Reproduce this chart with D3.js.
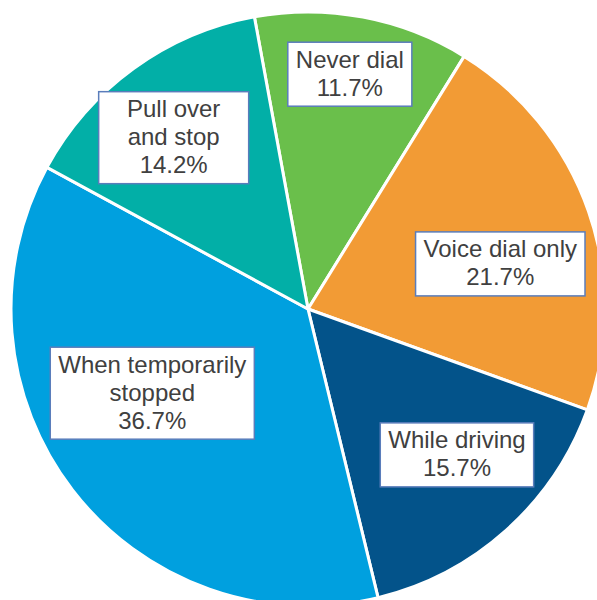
<!DOCTYPE html>
<html>
<head>
<meta charset="utf-8">
<script src="https://cdn.jsdelivr.net/npm/d3@7"></script>
<style>
  html, body { margin: 0; padding: 0; background: #fff; overflow: hidden; }
  svg { display: block; }
</style>
</head>
<body>
<svg id="chart" width="597" height="600"></svg>
<script>
// ---- Data ----
const categories = ["Never dial", "Voice dial only", "While driving", "When temporarily stopped", "Pull over and stop"];
const values = [11.7, 21.7, 15.7, 36.7, 14.2];
const labelLines = [
  ["Never dial"],
  ["Voice dial only"],
  ["While driving"],
  ["When temporarily", "stopped"],
  ["Pull over", "and stop"]
];
const colors = ["#6ABF4B", "#F29B35", "#03538A", "#00A0DF", "#02AFA7"];

// ---- Layout ----
const W = 597, H = 600;
const cx = 308, cy = 309, R = 297;
const startDeg = -10.4;
// label placement: polar angle (deg, clockwise from top), radius fraction, min box width
const labelPlace = [
  { a: 10.1,  f: 0.803, minW: 0 },
  { a: 76.8,  f: 0.665, minW: 0 },
  { a: 134.4, f: 0.702, minW: 0 },
  { a: 241.6, f: 0.596, minW: 0 },
  { a: 321.9, f: 0.733, minW: 150 }
];
const fontSize = 24, lineH = 28, padX = 8;

const svg = d3.select("#chart");
const g = svg.append("g").attr("transform", `translate(${cx},${cy})`);

const rad = d => d * Math.PI / 180;
const pie = d3.pie().sort(null).value(d => d.v)
  .startAngle(rad(startDeg)).endAngle(rad(startDeg + 360));
const data = categories.map((c, i) => ({ c, v: values[i], i }));
const arcs = pie(data);
const arc = d3.arc().innerRadius(0).outerRadius(R);

g.selectAll("path.slice").data(arcs).enter().append("path")
  .attr("class", "slice")
  .attr("d", arc)
  .attr("fill", d => colors[d.data.i])
  .attr("stroke", "#ffffff")
  .attr("stroke-width", 3)
  .attr("stroke-linejoin", "round");

// labels
const lg = g.append("g").attr("font-family", "'Liberation Sans', Arial, sans-serif")
  .attr("font-size", fontSize).attr("fill", "#404040");

arcs.forEach(d => {
  const i = d.data.i;
  const lines = labelLines[i].concat([d3.format(".1f")(values[i]) + "%"]);
  const p = labelPlace[i];
  const lx = Math.sin(rad(p.a)) * R * p.f;
  const ly = -Math.cos(rad(p.a)) * R * p.f;
  const grp = lg.append("g").attr("transform", `translate(${lx},${ly})`);
  const rect = grp.append("rect");
  const h = lines.length * lineH + 8;
  const text = grp.append("text").attr("text-anchor", "middle");
  lines.forEach((t, k) => {
    text.append("tspan").attr("x", 0)
      .attr("y", -h / 2 + 25.5 + k * lineH).text(t);
  });
  const bb = text.node().getBBox();
  const w = Math.max(bb.width + padX * 2, p.minW);
  rect.attr("x", -w / 2).attr("y", -h / 2).attr("width", w).attr("height", h)
    .attr("fill", "#ffffff").attr("stroke", "#5A7DBB").attr("stroke-width", 1.5);
});
</script>
</body>
</html>
